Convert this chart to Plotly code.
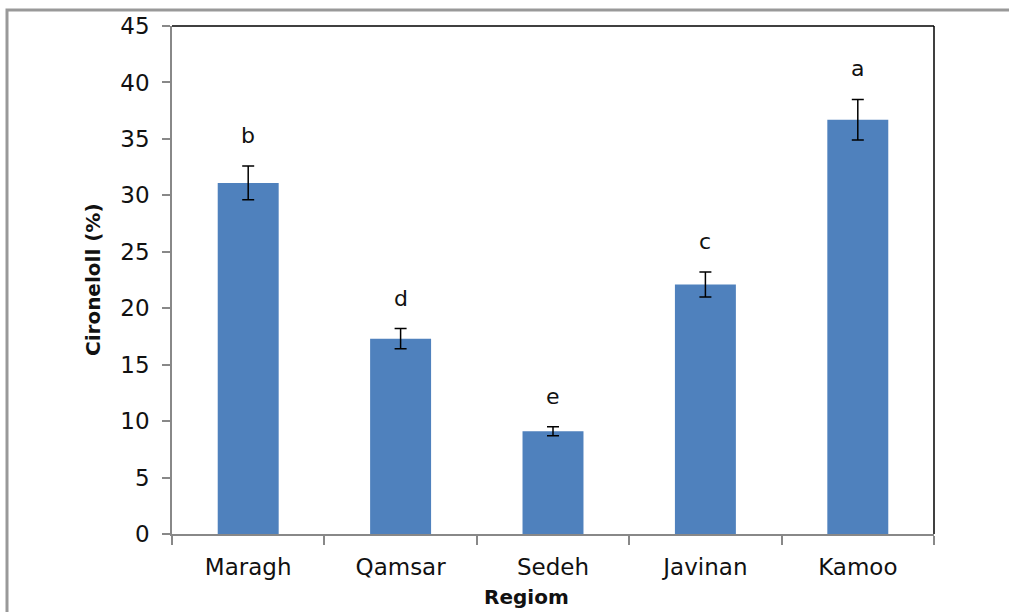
import plotly.graph_objects as go

# Citronellol content by region
regions = ["Maragh", "Qamsar", "Sedeh", "Javinan", "Kamoo"]
citronellol = [31.1, 17.3, 9.1, 22.1, 36.7]
std_err = [1.5, 0.9, 0.4, 1.1, 1.8]
groups = ["b", "d", "e", "c", "a"]

W, H = 1009, 612
L, R, T, B = 172, 75, 26, 78
pw, ph = W - L - R, H - T - B
FONT = "DejaVu Sans, Arial"

fig = go.Figure()
fig.add_trace(go.Bar(
    x=regions, y=citronellol,
    width=0.4,
    marker=dict(color="#4F81BD", line=dict(width=0)),
    error_y=dict(type="data", array=std_err, visible=True,
                 color="#000000", thickness=1.5, width=6),
))

# significance letters above each error bar
for r, v, e, g in zip(regions, citronellol, std_err, groups):
    fig.add_annotation(x=r, y=v + e, text=g, showarrow=False,
                       yanchor="bottom", yshift=16,
                       font=dict(family=FONT, size=22, color="#111"))

# axis titles
fig.add_annotation(xref="paper", yref="paper", x=(526 - L) / pw, y=(H - B - 597) / ph,
                   xanchor="center", yanchor="middle",
                   text="<b>Regiom</b>", showarrow=False,
                   font=dict(family=FONT, size=20, color="#111"))
fig.add_annotation(xref="paper", yref="paper", x=(93 - L) / pw, y=0.5,
                   xanchor="center", yanchor="middle",
                   text="<b>Cironeloll (%)</b>", textangle=-90, showarrow=False,
                   font=dict(family=FONT, size=20, color="#111"))

# outer chart frame (top and left edges visible)
fig.add_shape(type="rect", xref="paper", yref="paper",
              x0=(7 - L) / pw, x1=1.3, y0=-0.4, y1=1 + (T - 10) / ph,
              line=dict(color="#999999", width=3), layer="below")
# plot area top and right edges
fig.add_shape(type="line", xref="paper", yref="paper", x0=0, x1=1, y0=1, y1=1,
              line=dict(color="#000000", width=1.5))
fig.add_shape(type="line", xref="paper", yref="paper", x0=1, x1=1, y0=0, y1=1,
              line=dict(color="#000000", width=1.5))

fig.update_layout(
    width=W, height=H,
    margin=dict(l=L, r=R, t=T, b=B),
    paper_bgcolor="white", plot_bgcolor="white",
    showlegend=False,
    font=dict(family=FONT, size=23, color="#111"),
    xaxis=dict(showline=True, linecolor="#888888", linewidth=1.5,
               ticks="outside", tickson="boundaries", ticklen=9,
               tickcolor="#888888", tickwidth=1.5, showgrid=False,
               tickfont=dict(size=23), ticklabelstandoff=12),
    yaxis=dict(range=[0, 45], dtick=5, showline=True, linecolor="#888888",
               linewidth=1.5, ticks="outside", ticklen=8, tickcolor="#888888",
               tickwidth=1.5, showgrid=False, zeroline=False,
               tickfont=dict(size=23), ticklabelstandoff=8),
)

fig.write_html("out.html")
